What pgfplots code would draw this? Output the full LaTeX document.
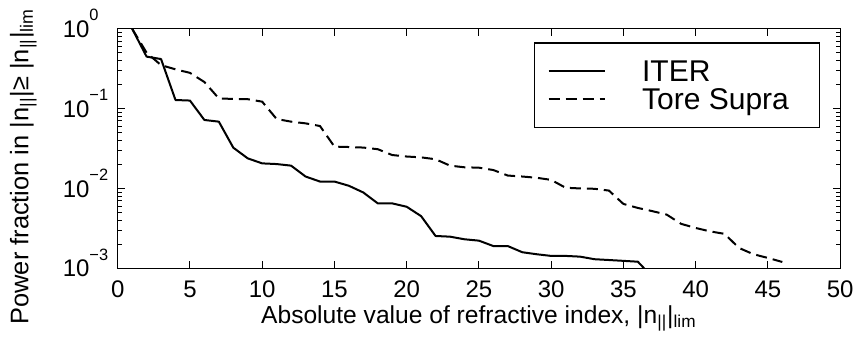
\documentclass[border=0pt]{standalone}
\usepackage{fontspec}
\setmainfont{Liberation Sans}
\usepackage{pgfplots}
\pgfplotsset{compat=1.18}
\newcommand{\sups}[1]{\raisebox{8.3pt}{\fontsize{8.2}{9}\selectfont #1}}
\begin{document}
\begin{tikzpicture}
\path[use as bounding box] (-58.85pt,-35.35pt) rectangle (368.15pt,134.15pt);
\begin{axis}[
  at={(0pt,0pt)}, anchor=south west,
  scale only axis,
  width=361.2pt, height=119.8pt,
  xmin=0, xmax=50, ymin=1e-3, ymax=1,
  ymode=log,
  xtick={0,5,...,50},
  ytick={1e-3,1e-2,1e-1,1},
  yticklabels={10\sups{−3},10\sups{−2},10\sups{−1},10\sups{0}},
  /pgf/number format/assume math mode=true,
  tick label style={font=\fontsize{12}{14}\selectfont, inner sep=0pt},
  xticklabel style={anchor=base, yshift=-14.5pt},
  yticklabel style={anchor=base west, xshift=-27.65pt, yshift=-4.3pt},
  major tick length=3.5pt, minor tick length=2pt,
  tick style={black, line width=0.5pt},
  axis line style={line width=0.6pt},
  xlabel={Absolute value of refractive index, |n\textsubscript{||}|\textsubscript{lim}},
  ylabel={Power fraction in |n\textsubscript{||}|≥ |n\textsubscript{||}|\textsubscript{lim}},
  xlabel style={font=\fontsize{12.3}{14}\selectfont, inner sep=0pt, at={(axis description cs:0.5,-0.2295)}, anchor=base},
  ylabel style={font=\fontsize{12.7}{14}\selectfont, inner sep=0pt, at={(axis description cs:-0.1238,0.425)}, anchor=base},
  legend style={at={(0.9723,0.9432)}, anchor=north east, draw=black, line width=0.6pt,
    font=\fontsize{15}{17}\selectfont, inner xsep=6.7pt, inner ysep=8.9pt, row sep=3.9pt,
    nodes={inner sep=0pt, text height=10.3pt, text depth=0pt},
    /tikz/column 1/.style={column sep=18pt}},
  legend cell align=left,
  legend image code/.code={\draw[#1] (0pt,0pt) -- (28.3pt,0pt);},
]
\addplot[black, line width=1pt, line join=round] coordinates {
(1,1.0) (2,0.447) (3,0.417) (4,0.128) (5,0.126) (6,0.072) (7,0.0686) (8,0.0324)
(9,0.0238) (10,0.0206) (11,0.0202) (12,0.0193) (13,0.0141) (14,0.0122) (15,0.0122)
(16,0.0108) (17,0.0089) (18,0.0065) (19,0.0065) (20,0.0059) (21,0.0045) (22,0.00254)
(23,0.00249) (24,0.00231) (25,0.00222) (26,0.0019) (27,0.0019) (28,0.00159) (29,0.0015)
(30,0.00143) (31,0.00143) (32,0.0014) (33,0.0013) (34,0.00127) (35,0.00124) (36,0.00121)
(37,0.00078)
};
\addlegendentry{ITER}
\addplot[black, line width=1pt, dash pattern=on 5.5pt off 3pt] coordinates {
(1,1.0) (2,0.5) (3,0.35) (4,0.31) (5,0.28) (6,0.215) (7,0.134) (8,0.132) (9,0.131)
(10,0.122) (11,0.074) (12,0.0686) (13,0.0653) (14,0.0605) (15,0.0334) (16,0.033)
(17,0.0325) (18,0.031) (19,0.0262) (20,0.0251) (21,0.0245) (22,0.0232) (23,0.0193)
(24,0.0184) (25,0.0182) (26,0.0170) (27,0.0145) (28,0.0141) (29,0.0136) (30,0.0128)
(31,0.0102) (32,0.0100) (33,0.0099) (34,0.0094) (35,0.0064) (36,0.0057) (37,0.0052)
(38,0.0047) (39,0.0036) (40,0.0032) (41,0.0029) (42,0.0027) (43,0.0018) (44,0.0015)
(45,0.00135) (46,0.0012)
};
\addlegendentry{Tore Supra\hspace*{8.6pt}}
\end{axis}
\end{tikzpicture}
\end{document}
